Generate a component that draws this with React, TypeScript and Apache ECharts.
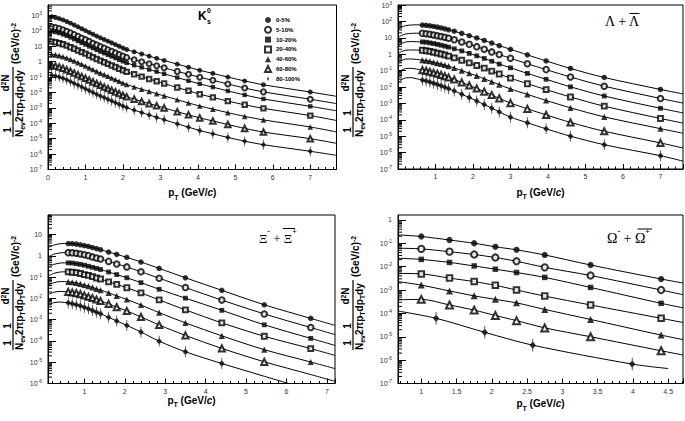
import React, { useEffect, useRef } from 'react';
import * as echarts from 'echarts';

const CENTRALITY = ['0-5%', '5-10%', '10-20%', '20-40%', '40-60%', '60-80%', '80-100%'];

// All spectra values are log10 of 1/Nev 1/(2πpT) d²N/dpTdy.

// ---------- K0s ----------
const K0_PT = [0.1, 0.2, 0.3, 0.4, 0.5, 0.6, 0.7, 0.8, 0.9, 1.0, 1.1, 1.2, 1.3, 1.4, 1.5, 1.6, 1.7, 1.8, 1.9, 2.0, 2.1, 2.3, 2.5, 2.7, 2.9, 3.1, 3.45, 3.75, 4.05, 4.4, 4.8, 5.25, 5.75, 7.0];
const K0_0_5 = [2.92, 2.87, 2.80, 2.71, 2.61, 2.50, 2.38, 2.26, 2.14, 2.02, 1.90, 1.78, 1.66, 1.55, 1.44, 1.33, 1.22, 1.11, 1.00, 0.89, 0.79, 0.64, 0.50, 0.36, 0.22, 0.08, -0.16, -0.36, -0.56, -0.76, -1.00, -1.25, -1.50, -1.97];
const K0_5_10 = [2.26, 2.22, 2.16, 2.07, 1.98, 1.88, 1.77, 1.65, 1.54, 1.43, 1.32, 1.20, 1.09, 0.99, 0.88, 0.78, 0.67, 0.57, 0.46, 0.36, 0.27, 0.13, 0.00, -0.13, -0.27, -0.40, -0.63, -0.82, -1.01, -1.21, -1.45, -1.71, -1.96, -2.44];
const K0_10_20 = [1.97, 1.92, 1.86, 1.77, 1.68, 1.57, 1.46, 1.34, 1.22, 1.11, 0.99, 0.88, 0.76, 0.65, 0.55, 0.44, 0.34, 0.23, 0.12, 0.02, -0.08, -0.23, -0.37, -0.51, -0.65, -0.79, -1.03, -1.24, -1.44, -1.65, -1.90, -2.16, -2.42, -2.90];
const K0_20_40 = [1.30, 1.26, 1.20, 1.13, 1.04, 0.94, 0.84, 0.73, 0.62, 0.52, 0.40, 0.29, 0.17, 0.07, -0.04, -0.14, -0.25, -0.35, -0.46, -0.56, -0.66, -0.82, -0.97, -1.12, -1.27, -1.42, -1.68, -1.89, -2.11, -2.32, -2.56, -2.80, -3.03, -3.50];
const K0_40_60 = [0.47, 0.44, 0.39, 0.32, 0.24, 0.15, 0.04, -0.06, -0.17, -0.28, -0.40, -0.51, -0.63, -0.74, -0.84, -0.95, -1.06, -1.16, -1.27, -1.38, -1.48, -1.64, -1.79, -1.93, -2.08, -2.22, -2.47, -2.68, -2.88, -3.08, -3.31, -3.55, -3.78, -4.24];
const K0_60_80 = [-0.24, -0.28, -0.34, -0.42, -0.52, -0.62, -0.73, -0.85, -0.96, -1.08, -1.19, -1.31, -1.42, -1.53, -1.64, -1.74, -1.85, -1.96, -2.07, -2.18, -2.28, -2.43, -2.58, -2.72, -2.86, -3.00, -3.25, -3.45, -3.65, -3.85, -4.08, -4.33, -4.57, -5.00];
const K0_80_100 = [-0.88, -0.93, -1.00, -1.08, -1.18, -1.29, -1.41, -1.52, -1.64, -1.76, -1.88, -2.00, -2.12, -2.23, -2.33, -2.44, -2.55, -2.66, -2.77, -2.88, -2.98, -3.15, -3.30, -3.46, -3.62, -3.77, -4.03, -4.25, -4.47, -4.68, -4.92, -5.16, -5.39, -5.82];
const K0_FIT_HEAD_PT = [0.0];
const K0_FIT_HEAD = [[2.95], [2.28], [2.00], [1.33], [0.49], [-0.22], [-0.85]];
const K0_FIT_TAIL = [[[7.7, -2.25]], [[7.7, -2.72]], [[7.7, -3.19]], [[7.7, -3.82]], [[7.7, -4.56]], [[7.7, -5.30]], [[7.7, -6.08]]];

// ---------- Lambda ----------
const LA_PT = [0.65, 0.75, 0.85, 0.95, 1.05, 1.15, 1.25, 1.35, 1.5, 1.7, 1.9, 2.1, 2.3, 2.5, 2.7, 3.0, 3.45, 3.95, 4.6, 5.5, 7.0];
const LA_0_5 = [1.78, 1.76, 1.73, 1.69, 1.65, 1.60, 1.55, 1.49, 1.40, 1.27, 1.13, 0.99, 0.84, 0.68, 0.52, 0.30, -0.04, -0.41, -0.87, -1.42, -2.15];
const LA_5_10 = [1.27, 1.25, 1.22, 1.17, 1.13, 1.08, 1.03, 0.97, 0.88, 0.74, 0.60, 0.46, 0.30, 0.14, -0.02, -0.25, -0.58, -0.94, -1.39, -1.95, -2.70];
const LA_10_20 = [0.75, 0.73, 0.69, 0.65, 0.60, 0.55, 0.49, 0.43, 0.33, 0.20, 0.05, -0.10, -0.26, -0.43, -0.60, -0.83, -1.17, -1.53, -1.99, -2.55, -3.30];
const LA_20_40 = [0.24, 0.21, 0.17, 0.12, 0.07, 0.01, -0.05, -0.12, -0.22, -0.37, -0.53, -0.69, -0.85, -1.03, -1.21, -1.46, -1.80, -2.16, -2.61, -3.17, -3.92];
const LA_40_60 = [-0.36, -0.39, -0.43, -0.49, -0.54, -0.60, -0.66, -0.73, -0.84, -1.00, -1.16, -1.32, -1.50, -1.68, -1.86, -2.12, -2.45, -2.82, -3.27, -3.82, -4.54];
const LA_60_80 = [-0.97, -1.01, -1.07, -1.13, -1.19, -1.26, -1.34, -1.42, -1.54, -1.72, -1.90, -2.09, -2.28, -2.49, -2.69, -2.98, -3.33, -3.70, -4.16, -4.70, -5.41];
const LA_80_100 = [-1.58, -1.63, -1.70, -1.77, -1.84, -1.93, -2.01, -2.10, -2.24, -2.44, -2.64, -2.85, -3.07, -3.29, -3.52, -3.84, -4.18, -4.55, -5.00, -5.52, -6.19];
const LA_FIT_HEAD_PT = [0.0, 0.1, 0.2, 0.35, 0.5];
const LA_FIT_HEAD = [
  [1.50, 1.65, 1.74, 1.78, 1.79],
  [1.00, 1.15, 1.23, 1.27, 1.28],
  [0.50, 0.66, 0.74, 0.77, 0.76],
  [0.02, 0.17, 0.24, 0.26, 0.25],
  [-0.55, -0.38, -0.30, -0.29, -0.32],
  [-1.15, -0.97, -0.88, -0.86, -0.91],
  [-1.75, -1.55, -1.45, -1.43, -1.50],
];
const LA_FIT_TAIL = [[[7.6, -2.42]], [[7.6, -2.98]], [[7.6, -3.58]], [[7.6, -4.20]], [[7.6, -4.82]], [[7.6, -5.72]], [[7.6, -6.52]]];

// ---------- Xi ----------
const XI_PT = [0.6, 0.7, 0.8, 0.9, 1.0, 1.1, 1.2, 1.3, 1.4, 1.6, 1.8, 2.05, 2.4, 2.85, 3.5, 4.4, 5.45, 6.6];
const XI_0_5 = [0.58, 0.57, 0.55, 0.52, 0.48, 0.44, 0.39, 0.34, 0.29, 0.18, 0.07, -0.07, -0.29, -0.59, -1.03, -1.62, -2.30, -2.94];
const XI_5_10 = [0.15, 0.14, 0.12, 0.09, 0.05, 0.01, -0.05, -0.10, -0.15, -0.26, -0.38, -0.52, -0.75, -1.05, -1.49, -2.08, -2.73, -3.37];
const XI_10_20 = [-0.33, -0.34, -0.37, -0.40, -0.44, -0.49, -0.54, -0.59, -0.64, -0.76, -0.88, -1.03, -1.26, -1.57, -1.99, -2.56, -3.24, -3.88];
const XI_20_40 = [-0.75, -0.77, -0.79, -0.83, -0.88, -0.92, -0.98, -1.04, -1.09, -1.22, -1.34, -1.50, -1.74, -2.07, -2.54, -3.15, -3.78, -4.36];
const XI_40_60 = [-1.22, -1.24, -1.27, -1.32, -1.37, -1.42, -1.48, -1.55, -1.61, -1.74, -1.88, -2.05, -2.31, -2.67, -3.15, -3.76, -4.41, -4.99];
const XI_60_80 = [-1.69, -1.72, -1.75, -1.80, -1.86, -1.92, -1.98, -2.05, -2.12, -2.26, -2.41, -2.59, -2.87, -3.25, -3.74, -4.35, -4.98];
const XI_80_100 = [-2.21, -2.25, -2.30, -2.35, -2.42, -2.49, -2.57, -2.65, -2.72, -2.89, -3.06, -3.27, -3.58, -4.01, -4.51, -5.06];
const XI_FIT_HEAD_PT = [0.1, 0.25, 0.4, 0.5];
const XI_FIT_HEAD = [
  [0.38, 0.51, 0.57, 0.58],
  [-0.05, 0.08, 0.14, 0.15],
  [-0.53, -0.40, -0.34, -0.33],
  [-0.95, -0.82, -0.76, -0.75],
  [-1.38, -1.26, -1.21, -1.21],
  [-1.82, -1.71, -1.67, -1.68],
  [-2.30, -2.20, -2.17, -2.19],
];
const XI_FIT_TAIL = [
  [[7.2, -3.27]],
  [[7.2, -3.70]],
  [[7.2, -4.21]],
  [[7.2, -4.68]],
  [[7.2, -5.30]],
  [[6.6, -5.58], [7.2, -5.90]],
  [[5.45, -5.66], [6.05, -6.0], [6.6, -6.3]],
];

// ---------- Omega ----------
const OM_PT = [1.0, 1.4, 1.75, 2.05, 2.35, 2.75, 3.4, 4.4];
const OM_PT_80_100 = [1.21, 1.9, 2.58, 3.99];
const OM_0_5 = [-0.71, -0.86, -1.00, -1.15, -1.28, -1.50, -1.93, -2.53];
const OM_5_10 = [-1.24, -1.36, -1.48, -1.61, -1.77, -2.03, -2.38, -3.00];
const OM_10_20 = [-1.69, -1.82, -1.97, -2.11, -2.25, -2.46, -2.89, -3.57];
const OM_20_40 = [-2.31, -2.49, -2.64, -2.80, -3.00, -3.26, -3.64, -4.21];
const OM_40_60 = [-2.79, -3.04, -3.25, -3.40, -3.55, -3.83, -4.26, -4.93];
const OM_60_80 = [-3.40, -3.64, -3.86, -4.09, -4.31, -4.62, -5.00, -5.60];
const OM_80_100 = [-4.21, -4.81, -5.36, -6.17];
const OM_FIT_HEAD_PT = [0.67];
const OM_FIT_HEAD = [[-0.64], [-1.21], [-1.64], [-2.29], [-2.64], [-3.42], [-3.90]];
const OM_FIT_TAIL = [[[4.71, -2.70]], [[4.71, -3.20]], [[4.71, -3.76]], [[4.71, -4.39]], [[4.71, -5.12]], [[4.71, -5.78]], [[4.5, -6.36]]];

const SANS = 'Liberation Sans';
const SERIF = 'Liberation Serif';
const DIAMOND = 'path://M3,0L6,5L3,10L0,5Z M2.6,-3L3.4,-3L3.4,13L2.6,13Z';
const SYMBOLS = ['circle', 'emptyCircle', 'rect', 'emptyRect', 'triangle', 'emptyTriangle', DIAMOND];

type PanelDef = {
  prefix: string;
  grid: { left: number; top: number; width: number; height: number };
  xMin: number; xMax: number; xInterval?: number; xSplit?: number; showMinX: boolean;
  yMin: number; yMax: number; showMaxY: boolean;
  pt: number[]; ptBySeries?: (number[] | null)[];
  values: number[][];
  headPt: number[]; head: number[][]; tail: number[][][];
  scale: number; nameGap: number;
};

const PANELS: PanelDef[] = [
  {
    prefix: '', grid: { left: 48, top: 5, width: 288.5, height: 164.5 },
    xMin: 0, xMax: 7.7, xInterval: 1, showMinX: true, yMin: -7, yMax: 3.68, showMaxY: false,
    pt: K0_PT, values: [K0_0_5, K0_5_10, K0_10_20, K0_20_40, K0_40_60, K0_60_80, K0_80_100],
    headPt: K0_FIT_HEAD_PT, head: K0_FIT_HEAD, tail: K0_FIT_TAIL, scale: 1, nameGap: 18,
  },
  {
    prefix: 'Λ ', grid: { left: 398, top: 5, width: 285, height: 164 },
    xMin: 0, xMax: 7.6, xInterval: 1, showMinX: false, yMin: -7, yMax: 3, showMaxY: true,
    pt: LA_PT, values: [LA_0_5, LA_5_10, LA_10_20, LA_20_40, LA_40_60, LA_60_80, LA_80_100],
    headPt: LA_FIT_HEAD_PT, head: LA_FIT_HEAD, tail: LA_FIT_TAIL, scale: 1.1, nameGap: 18,
  },
  {
    prefix: 'Ξ ', grid: { left: 48, top: 215, width: 287, height: 168.5 },
    xMin: 0.1, xMax: 7.2, xSplit: 5, showMinX: false, yMin: -6, yMax: 1.92, showMaxY: false,
    pt: XI_PT, values: [XI_0_5, XI_5_10, XI_10_20, XI_20_40, XI_40_60, XI_60_80, XI_80_100],
    headPt: XI_FIT_HEAD_PT, head: XI_FIT_HEAD, tail: XI_FIT_TAIL, scale: 1.1, nameGap: 8,
  },
  {
    prefix: 'Ω ', grid: { left: 398, top: 215, width: 285, height: 168.5 },
    xMin: 0.67, xMax: 4.71, xSplit: 8, showMinX: false, yMin: -7, yMax: 0.21, showMaxY: false,
    pt: OM_PT, ptBySeries: [null, null, null, null, null, null, OM_PT_80_100],
    values: [OM_0_5, OM_5_10, OM_10_20, OM_20_40, OM_40_60, OM_60_80, OM_80_100],
    headPt: OM_FIT_HEAD_PT, head: OM_FIT_HEAD, tail: OM_FIT_TAIL, scale: 1.25, nameGap: 15,
  },
];

function symSize(j: number, s: number): any {
  if (j === 6) return [5 * s, 10 * s];
  const base = [5, 5, 4.4, 4.4, 5.6, 5.6][j];
  return base * s;
}

function logLabel(v: number) {
  const n = Math.round(v);
  if (Math.abs(v - n) > 1e-6) return '';
  if (n === 0) return '1';
  if (n === 1) return '10';
  return '10{s|' + n + '}';
}

function yTitle(x: number, y: number) {
  const rich = {
    a: { fontSize: 10, fontFamily: SANS, fontWeight: 'bold', lineHeight: 12, verticalAlign: 'top', fill: '#000' },
    b: { fontSize: 7, fontFamily: SANS, fontWeight: 'bold', lineHeight: 7, verticalAlign: 'bottom', fill: '#000' },
    s: { fontSize: 7, fontFamily: SANS, fontWeight: 'bold', lineHeight: 7, verticalAlign: 'top', fill: '#000' },
  };
  const one = (lx: number) => ({
    type: 'text', x: lx, y: -1,
    style: { text: '1', fontSize: 10, lineHeight: 10, fontFamily: SANS, fontWeight: 'bold', align: 'center', verticalAlign: 'bottom', fill: '#000' },
  });
  return {
    type: 'group', x, y, rotation: Math.PI / 2, silent: true,
    children: [
      { type: 'line', shape: { x1: 0, y1: 0, x2: 70, y2: 0 }, style: { stroke: '#000', lineWidth: 1.2 } },
      one(7), one(24),
      { type: 'text', x: 54, y: -1, style: { text: '{a|d}{s|2}{a|N}', rich, align: 'center', verticalAlign: 'bottom' } },
      { type: 'text', x: 0, y: 1, style: { text: '{a|N}{b|ev}{a|2πp}{b|T}{a|dp}{b|T}{a|dy}', rich, align: 'left', verticalAlign: 'top' } },
      { type: 'text', x: 73, y: 3, style: { text: '{a|(GeV/c)}{s|-2}', rich, align: 'left', verticalAlign: 'middle' } },
    ],
  };
}

function buildOption() {
  const grids: any[] = [];
  const xAxes: any[] = [];
  const yAxes: any[] = [];
  const series: any[] = [];

  PANELS.forEach((p, gi) => {
    grids.push({ ...p.grid, show: true, borderColor: '#000', borderWidth: 1, containLabel: false });
    xAxes.push({
      type: 'value', gridIndex: gi, min: p.xMin, max: p.xMax,
      ...(p.xInterval ? { interval: p.xInterval } : { splitNumber: p.xSplit }),
      axisLine: { onZero: false, lineStyle: { color: '#000', width: 1 } },
      axisTick: { inside: true, length: 5, lineStyle: { color: '#000' } },
      minorTick: { show: true, splitNumber: 5, length: 2.5, lineStyle: { color: '#000' } },
      splitLine: { show: false },
      axisLabel: { fontSize: 7, color: '#333', margin: 4, showMinLabel: p.showMinX, showMaxLabel: false, fontFamily: SANS },
      name: '{p|p}{t|T}{p| (GeV/}{c|c}{p|)}', nameLocation: 'middle', nameGap: p.nameGap,
      nameTextStyle: {
        rich: {
          p: { fontSize: 10, fontWeight: 'bold', fontFamily: SANS, lineHeight: 13, verticalAlign: 'top', color: '#000' },
          t: { fontSize: 7, fontWeight: 'bold', fontFamily: SANS, lineHeight: 7, verticalAlign: 'bottom', color: '#000' },
          c: { fontSize: 10, fontWeight: 'bold', fontStyle: 'italic', fontFamily: SANS, lineHeight: 13, verticalAlign: 'top', color: '#000' },
        },
      },
    });
    yAxes.push({
      type: 'value', gridIndex: gi, min: p.yMin, max: p.yMax, interval: 1,
      axisLine: { onZero: false, lineStyle: { color: '#000', width: 1 } },
      axisTick: { inside: true, length: 8, lineStyle: { color: '#000' } },
      splitLine: { show: false },
      axisLabel: {
        fontSize: 7, lineHeight: 10, color: '#333', margin: 6, fontFamily: SANS,
        showMaxLabel: p.showMaxY, formatter: logLabel,
        rich: { s: { fontSize: 5, lineHeight: 5, verticalAlign: 'top', color: '#333', fontFamily: SANS } },
      },
    });

    // fit curves
    p.values.forEach((vals, j) => {
      const pts = (p.ptBySeries && p.ptBySeries[j]) || p.pt;
      const data: number[][] = [];
      p.headPt.forEach((x, k) => data.push([x, p.head[j][k]]));
      vals.forEach((v, i) => data.push([pts[i], v]));
      p.tail[j].forEach((pair) => data.push([pair[0], pair[1]]));
      series.push({
        type: 'line', name: p.prefix + 'fit ' + CENTRALITY[j], xAxisIndex: gi, yAxisIndex: gi,
        data, smooth: 0.3, showSymbol: false, symbol: 'none', silent: true, clip: true,
        lineStyle: { color: '#000', width: 1 }, z: 2,
      });
    });
    // markers
    p.values.forEach((vals, j) => {
      const pts = (p.ptBySeries && p.ptBySeries[j]) || p.pt;
      series.push({
        type: 'scatter', name: p.prefix + CENTRALITY[j], xAxisIndex: gi, yAxisIndex: gi,
        data: vals.map((v, i) => [pts[i], v]),
        symbol: SYMBOLS[j], symbolSize: symSize(j, p.scale),
        itemStyle: { color: '#000', borderColor: '#000', borderWidth: j % 2 === 1 && j < 6 ? 1 : 0 },
        z: 3, silent: true,
      });
    });
    // ROOT-like logarithmic minor ticks on the y axis
    const minor: number[][] = [];
    for (let n = Math.floor(p.yMin); n < p.yMax; n++) {
      for (let k = 2; k <= 9; k++) {
        const v = n + Math.log10(k);
        if (v > p.yMin && v < p.yMax) minor.push([p.xMin, v]);
      }
    }
    series.push({
      type: 'custom', xAxisIndex: gi, yAxisIndex: gi, silent: true, z: 4, data: minor,
      renderItem: (_params: any, api: any) => {
        const c = api.coord([api.value(0), api.value(1)]);
        return { type: 'line', shape: { x1: c[0], y1: c[1], x2: c[0] + 4, y2: c[1] }, style: { stroke: '#000', lineWidth: 1 } };
      },
    });
  });

  const supRich = (size: number, font: string) => ({
    a: { fontSize: size, fontFamily: font, lineHeight: size + 4, verticalAlign: 'bottom', fill: '#000' },
    s: { fontSize: Math.round(size * 0.6), fontFamily: font, fontWeight: 'bold', lineHeight: Math.round(size * 0.6), verticalAlign: 'top', fill: '#000' },
  });

  const graphic: any[] = [
    yTitle(13, 137), yTitle(353, 137), yTitle(13, 350), yTitle(353, 350),
    { type: 'text', x: 198, y: 16, silent: true, style: { text: 'K', fontSize: 12, fontWeight: 'bold', fontFamily: SANS, verticalAlign: 'middle', fill: '#000' } },
    { type: 'text', x: 207, y: 10, silent: true, style: { text: '0', fontSize: 7, fontWeight: 'bold', fontFamily: SANS, verticalAlign: 'middle', fill: '#000' } },
    { type: 'text', x: 207, y: 21, silent: true, style: { text: 's', fontSize: 7, fontWeight: 'bold', fontFamily: SANS, verticalAlign: 'middle', fill: '#000' } },
    { type: 'text', x: 605, y: 21, silent: true, style: { text: 'Λ + Λ', fontSize: 14, fontFamily: SERIF, verticalAlign: 'middle', fill: '#000' } },
    { type: 'line', silent: true, shape: { x1: 629.5, y1: 13.5, x2: 639.5, y2: 13.5 }, style: { stroke: '#000', lineWidth: 1 } },
    { type: 'text', x: 259, y: 236, silent: true, style: { text: '{a|Ξ}{s|-}{a| + Ξ}{s|+}', rich: supRich(13, SERIF), verticalAlign: 'middle' } },
    { type: 'line', silent: true, shape: { x1: 283, y1: 228.5, x2: 295, y2: 228.5 }, style: { stroke: '#000', lineWidth: 1 } },
    { type: 'text', x: 607, y: 236, silent: true, style: { text: '{a|Ω}{s|-}{a| + Ω}{s|+}', rich: supRich(14, SERIF), verticalAlign: 'middle' } },
    { type: 'line', silent: true, shape: { x1: 637.5, y1: 229, x2: 652, y2: 229 }, style: { stroke: '#000', lineWidth: 1 } },
  ];

  return {
    animation: false,
    backgroundColor: '#fff',
    textStyle: { fontFamily: SANS },
    grid: grids, xAxis: xAxes, yAxis: yAxes, series, graphic,
    legend: {
      data: CENTRALITY, orient: 'vertical', left: 259, top: 12, itemWidth: 6, itemHeight: 6, itemGap: 2.8,
      selectedMode: false,
      textStyle: { fontSize: 6, fontWeight: 'bold', fontFamily: SANS, lineHeight: 6, color: '#000' },
    },
  };
}

export default function App() {
  const ref = useRef<HTMLDivElement>(null);
  useEffect(() => {
    if (!ref.current) return;
    const chart = echarts.init(ref.current, undefined, { renderer: 'svg' });
    chart.setOption(buildOption() as any);
    return () => chart.dispose();
  }, []);
  return <div ref={ref} style={{ position: 'absolute', left: 0, top: 0, width: 685, height: 421 }} />;
}
